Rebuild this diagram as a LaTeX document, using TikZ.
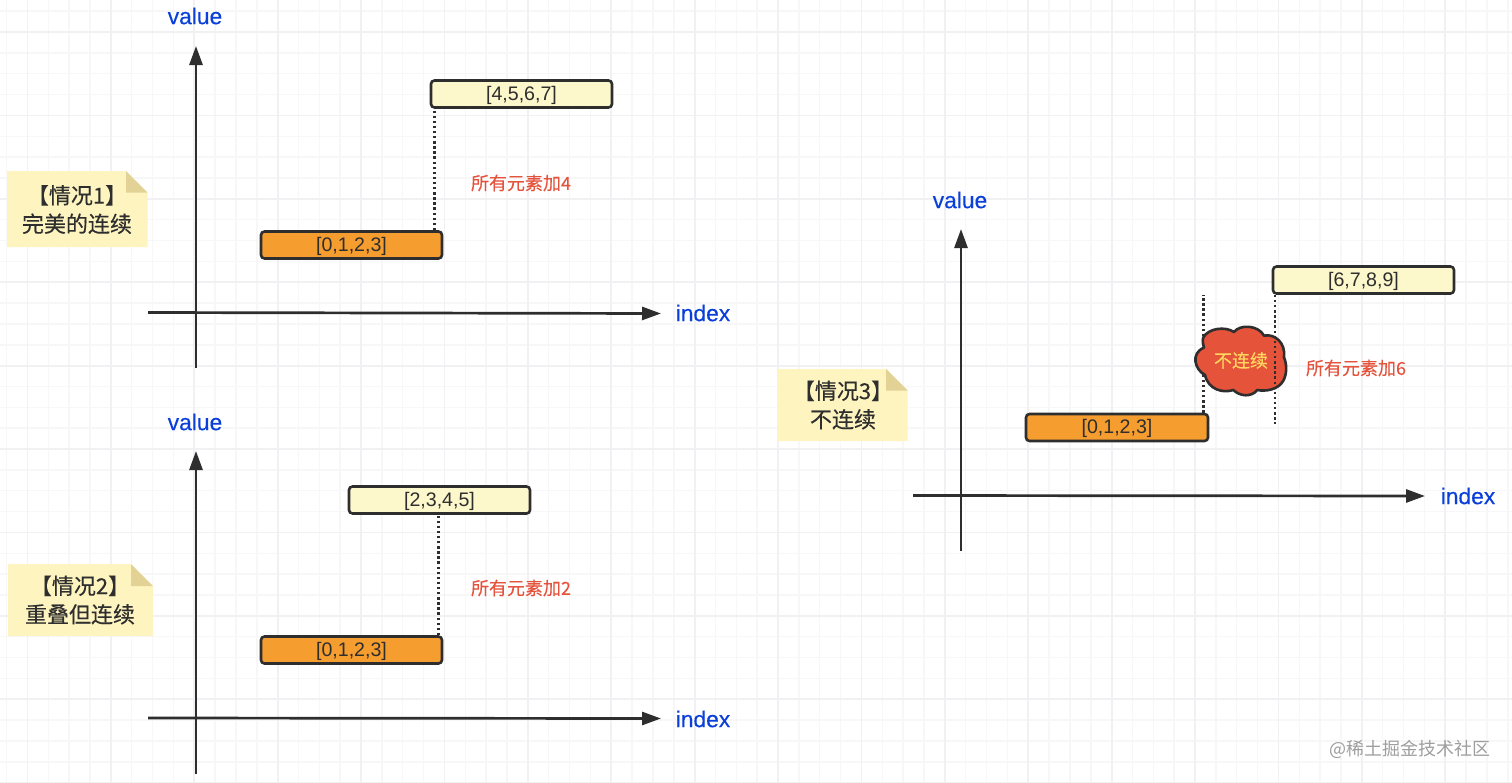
\documentclass[tikz,border=0pt]{standalone}
\usepackage{fontspec}
\setmainfont{Liberation Sans}
\newfontfamily\cjk{Noto Sans CJK SC}
\newfontfamily\cjkm[FakeBold=0.35]{Noto Sans CJK SC}
\newfontfamily\cjkc[FakeBold=0.2]{Noto Sans CJK SC}
\newfontfamily\latm[FakeBold=0.3]{Liberation Sans}
\usetikzlibrary{arrows.meta}
\definecolor{ink}{HTML}{2E2E2E}
\definecolor{orangebox}{HTML}{F59D2E}
\definecolor{yellowbox}{HTML}{FDF8CB}
\definecolor{notefill}{HTML}{FEF4C0}
\definecolor{foldfill}{HTML}{E2D296}
\definecolor{axislabel}{HTML}{0A3FD9}
\definecolor{redtext}{HTML}{E5533D}
\definecolor{cloudfill}{HTML}{E5533A}
\definecolor{cloudtext}{HTML}{FFD75E}
\definecolor{gridminor}{HTML}{F7F7F8}
\definecolor{gridmajor}{HTML}{F1F1F3}
\tikzset{
  axisline/.style={draw=ink,line width=2.7pt,-{Triangle[length=19pt,width=13pt]}},
  axistext/.style={text=axislabel,font=\latm\fontsize{22.8}{26}\selectfont,inner sep=0pt},
  databox/.style={draw=ink,line width=2.6pt,rounded corners=3.5pt,minimum height=27pt,inner sep=0pt,text=ink,text height=14.3pt,text depth=2.1pt,font=\fontsize{19.6}{23}\selectfont},
  lowbox/.style={databox,fill=orangebox},
  highbox/.style={databox,fill=yellowbox},
  dots/.style={draw=ink,line width=2.4pt,dash pattern=on 2.4pt off 2.7pt},
  addtext/.style={text=redtext,font=\cjkc\fontsize{18}{22}\selectfont,inner sep=0pt},
  notetext/.style={text=ink,align=center,font=\cjkm\fontsize{22}{28.5}\selectfont,inner sep=0pt},
}
\newcommand{\notepaper}[5]{%
  % x1, y1, x2, y2, fold size
  \fill[notefill] (#1,#2) -- (#3-#5,#2) -- (#3,#2+#5) -- (#3,#4) -- (#1,#4) -- cycle;
  \fill[foldfill] (#3-#5,#2) -- (#3,#2+#5) -- (#3-#5,#2+#5) -- cycle;
}
\begin{document}
\begin{tikzpicture}[x=1pt,y=-1pt]
\useasboundingbox (0,0) rectangle (1512,782);
\fill[white] (0,0) rectangle (1512,782);
% grid
\foreach \k in {-1,...,72} \draw[gridminor,line width=1.5pt] ({27.4+20.85*\k},0) -- ({27.4+20.85*\k},782);
\foreach \k in {-1,...,37} \draw[gridminor,line width=1.5pt] (0,{32+20.85*\k}) -- (1512,{32+20.85*\k});
\foreach \k in {0,...,18} \draw[gridmajor,line width=1.8pt] ({27.4+83.4*\k},0) -- ({27.4+83.4*\k},782);
\foreach \k in {0,...,9} \draw[gridmajor,line width=1.8pt] (0,{32+83.4*\k}) -- (1512,{32+83.4*\k});

% ---------- case 1
\coordinate (a1s) at (196,368); \coordinate (a1n) at (196,46);
\coordinate (a1w) at (148,312.5); \coordinate (a1e) at (661,313.5);
\draw[axisline] (a1s) -- (a1n);
\draw[axisline] (a1w) -- (a1e);
\node[axistext] (v1) at (195,16) {value};
\node[axistext] (i1) at (703,313) {index};
\node[highbox,minimum width=181pt] (h1) at (521.5,94) {[4,5,6,7]};
\node[lowbox,minimum width=181pt] (l1) at (351.5,245) {[0,1,2,3]};
\draw[dots] (l1.north -| 434.5,0) -- (h1.south -| 434.5,0);
\node[addtext] (t1) at (521,183) {所有元素加4};
\notepaper{7}{171}{147.5}{247}{21.5}
\node[notetext] (n1) at (77,209.5) {【情况1】\\完美的连续};

% ---------- case 2
\coordinate (a2s) at (196,774); \coordinate (a2n) at (196,451);
\coordinate (a2w) at (148,718); \coordinate (a2e) at (661,718.5);
\draw[axisline] (a2s) -- (a2n);
\draw[axisline] (a2w) -- (a2e);
\node[axistext] (v2) at (195,422) {value};
\node[axistext] (i2) at (703,719) {index};
\node[highbox,minimum width=181pt] (h2) at (439.5,500) {[2,3,4,5]};
\node[lowbox,minimum width=181pt] (l2) at (351.5,650) {[0,1,2,3]};
\draw[dots] (l2.north -| 438.5,0) -- (h2.south -| 438.5,0);
\node[addtext] (t2) at (521,588) {所有元素加2};
\notepaper{8}{564}{153}{636}{22}
\node[notetext] (n2) at (80,600) {【情况2】\\重叠但连续};

% ---------- case 3
\coordinate (a3s) at (961,551); \coordinate (a3n) at (961,229);
\coordinate (a3w) at (913,495.5); \coordinate (a3e) at (1425,496);
\draw[axisline] (a3s) -- (a3n);
\draw[axisline] (a3w) -- (a3e);
\node[axistext] (v3) at (960,200) {value};
\node[axistext] (i3) at (1468,496) {index};
\node[lowbox,minimum width=182pt] (l3) at (1117,427.5) {[0,1,2,3]};
\node[highbox,minimum width=181pt] (h3) at (1363.5,280) {[6,7,8,9]};
\coordinate (d3a) at (1203.5,295);
\coordinate (d3b) at (1275,424);
\draw[dots] (l3.north -| d3a) -- (d3a);
\begin{scope}[shift={(1140,250)},x=0.3333pt,y=-0.3333pt]
\draw[draw=ink,line width=2.6pt,fill=cloudfill,line join=round]
  (190,262) .. controls (205,235) and (255,228) .. (282,246)
  .. controls (300,222) and (355,225) .. (372,257)
  .. controls (405,250) and (438,280) .. (432,322)
  .. controls (440,340) and (442,370) .. (430,392)
  .. controls (415,420) and (375,425) .. (352,420)
  .. controls (335,442) and (300,440) .. (280,420)
  .. controls (250,430) and (205,420) .. (195,375)
  .. controls (165,360) and (150,310) .. (192,293)
  .. controls (190,285) and (186,272) .. (190,262) -- cycle;
\end{scope}
\node[text=cloudtext,font=\cjkc\fontsize{18}{22}\selectfont,inner sep=0pt] (c3) at (1241,360.5) {不连续};
\draw[dots] (h3.south -| d3b) -- (d3b);
\node[addtext] (t3) at (1356,368) {所有元素加6};
\notepaper{778}{369}{907.5}{441}{21.5}
\node[notetext] (n3) at (843,405) {【情况3】\\不连续};

% watermark
\node[text=black!38,font=\cjk\fontsize{18}{21}\selectfont,inner sep=0pt] (w) at (1409.5,749) {@稀土掘金技术社区};
\end{tikzpicture}
\end{document}
